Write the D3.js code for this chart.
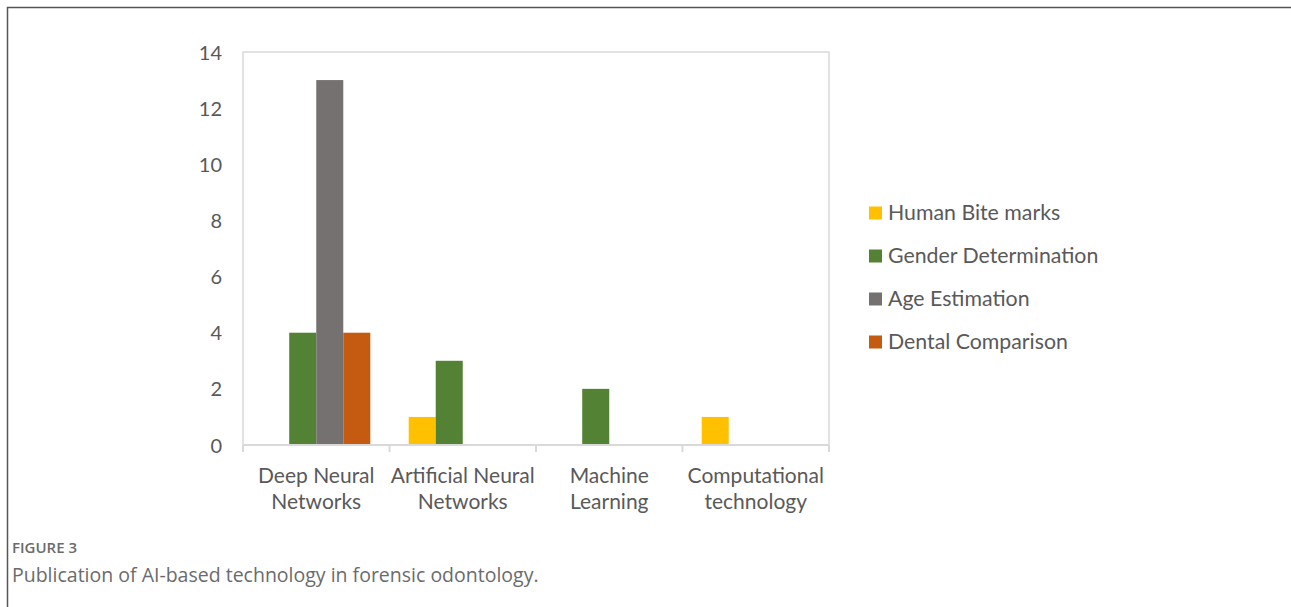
<!DOCTYPE html>
<meta charset="utf-8">
<style>
  body { margin: 0; background: #fff; }
  .axis text { font-family: Lato, "Open Sans", sans-serif; fill: #595959; }
  .legend text { font-family: Lato, "Open Sans", sans-serif; fill: #595959; font-size: 21.3px; }
  .caption { font-family: "Open Sans", sans-serif; fill: #6b6b6b; }
</style>
<svg width="1291" height="607"></svg>
<script src="https://d3js.org/d3.v7.min.js"></script>
<script>
var svg = d3.select("svg");

// data
var categories = [["Deep Neural", "Networks"], ["Artificial Neural", "Networks"], ["Machine", "Learning"], ["Computational", "technology"]];
var seriesNames = ["Human Bite marks", "Gender Determination", "Age Estimation", "Dental Comparison"];
var seriesColors = ["#ffc000", "#548235", "#767171", "#c55a11"];
var humanBite   = [0, 1, 0, 1];
var gender      = [4, 3, 2, 0];
var age         = [13, 0, 0, 0];
var dental      = [4, 0, 0, 0];
var yTicks = [0, 2, 4, 6, 8, 10, 12, 14];

var values = [humanBite, gender, age, dental];

// figure frame (top + left edge only)
svg.append("path")
   .attr("d", "M7.5,607 L7.5,7.5 L1291,7.5")
   .attr("fill", "none")
   .attr("stroke", "#555")
   .attr("stroke-width", 1.5);

var plot = {left: 243, right: 829, top: 52, bottom: 445};

var x = d3.scaleBand()
          .domain(d3.range(categories.length))
          .range([plot.left, plot.right])
          .paddingInner(0).paddingOuter(0);

// 4-bar group centred in each band, gap ~142% of a bar like Excel
var barW = x.bandwidth() / (4 + 1.42);
var offset = function(s) { return (x.bandwidth() - 4 * barW) / 2 + s * barW; };

var y = d3.scaleLinear().domain([0, 14]).range([plot.bottom, plot.top]);

// plot area box
svg.append("rect")
   .attr("x", plot.left).attr("y", plot.top)
   .attr("width", plot.right - plot.left).attr("height", plot.bottom - plot.top)
   .attr("fill", "none").attr("stroke", "#d9d9d9").attr("stroke-width", 1.5);

// bars
values.forEach(function(vals, s) {
  svg.append("g")
     .selectAll()
     .data(vals.map((v, i) => ({v: v, i: i})).filter(d => d.v > 0))
     .enter().append("rect")
     .attr("x", d => x(d.i) + offset(s))
     .attr("y", d => y(d.v))
     .attr("width", barW)
     .attr("height", d => y(0) - y(d.v))
     .attr("fill", seriesColors[s]);
});

// y axis labels
var yAxis = svg.append("g").attr("class", "axis")
               .attr("transform", "translate(" + (plot.left - 21) + ",0)")
               .call(d3.axisLeft(y).tickValues(yTicks).tickSize(0).tickPadding(0));
yAxis.select(".domain").remove();
yAxis.selectAll("text").style("font-size", "20px").attr("dy", "0.35em");

// x axis baseline with ticks at band edges
var xg = svg.append("g").attr("class", "axis");
xg.append("line")
  .attr("x1", plot.left).attr("x2", plot.right)
  .attr("y1", plot.bottom).attr("y2", plot.bottom)
  .attr("stroke", "#d9d9d9").attr("stroke-width", 2);
xg.selectAll(".tk")
  .data(d3.range(categories.length + 1))
  .enter().append("line")
  .attr("x1", i => plot.left + i * x.bandwidth())
  .attr("x2", i => plot.left + i * x.bandwidth())
  .attr("y1", plot.bottom).attr("y2", plot.bottom + 7)
  .attr("stroke", "#d9d9d9").attr("stroke-width", 2);

var lbl = xg.selectAll(".lbl")
  .data(categories)
  .enter().append("text")
  .attr("text-anchor", "middle")
  .style("font-size", "21px");
lbl.each(function(d, i) {
  var t = d3.select(this);
  d.forEach(function(line, k) {
    t.append("tspan")
     .attr("x", x(i) + x.bandwidth() / 2)
     .attr("y", 483 + k * 26)
     .text(line);
  });
});

// legend
var legend = svg.append("g").attr("class", "legend")
  .selectAll()
  .data(seriesNames)
  .enter().append("g")
  .attr("transform", (d, i) => "translate(869," + (213 + i * 43) + ")");
legend.append("rect")
  .attr("x", 0).attr("y", -6.5).attr("width", 13).attr("height", 13)
  .attr("fill", (d, i) => seriesColors[i]);
legend.append("text")
  .attr("x", 19).attr("dy", "0.35em")
  .text(d => d);

// caption
svg.append("text").attr("class", "caption")
   .attr("x", 12).attr("y", 553)
   .style("font-size", "15px").style("font-weight", 600)
   .text("FIGURE 3");
svg.append("text").attr("class", "caption")
   .attr("x", 12).attr("y", 582)
   .style("font-size", "19.5px")
   .text("Publication of AI-based technology in forensic odontology.");
</script>
